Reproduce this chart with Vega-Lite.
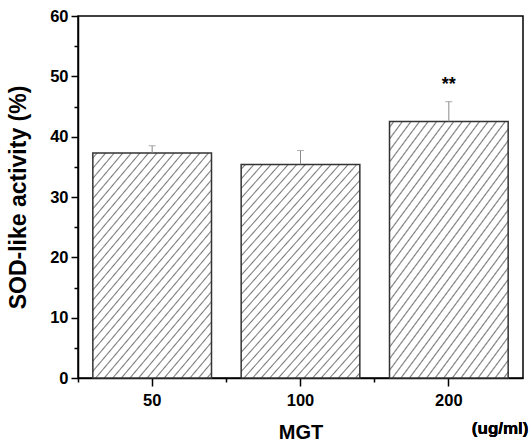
{
  "$schema": "https://vega.github.io/schema/vega-lite/v6.json",
  "width": 445,
  "height": 362,
  "autosize": "none",
  "padding": {"left": 78, "top": 16, "right": 8, "bottom": 68},
  "config": {
    "view": {"stroke": "black", "strokeWidth": 1.5},
    "font": "Liberation Sans",
    "axis": {
      "labelFont": "Liberation Sans", "labelFontWeight": "bold", "labelColor": "black",
      "titleFont": "Liberation Sans", "titleFontWeight": "bold", "titleColor": "black",
      "domainColor": "black", "domainWidth": 1.5, "tickColor": "black", "tickWidth": 1.5, "grid": false
    }
  },
  "data": {
    "values": [
      {"dose": "50", "mean": 37.3, "upper": 38.5, "sig": ""},
      {"dose": "100", "mean": 35.4, "upper": 37.7, "sig": ""},
      {"dose": "200", "mean": 42.5, "upper": 45.8, "sig": "**"}
    ]
  },
  "resolve": {"axis": {"x": "independent", "y": "independent"}},
  "layer": [
    {
      "mark": {
        "type": "bar",
        "stroke": "#333333",
        "strokeWidth": 1.5,
        "fill": {
          "gradient": "linear", "x1": 0, "y1": 0, "x2": 0.73, "y2": 1.168,
          "stops": [
            {"offset": 0.00939, "color": "white"}, {"offset": 0.01389, "color": "#7a7a7a"}, {"offset": 0.01839, "color": "white"},
            {"offset": 0.03717, "color": "white"}, {"offset": 0.04167, "color": "#7a7a7a"}, {"offset": 0.04617, "color": "white"},
            {"offset": 0.06494, "color": "white"}, {"offset": 0.06944, "color": "#7a7a7a"}, {"offset": 0.07394, "color": "white"},
            {"offset": 0.09272, "color": "white"}, {"offset": 0.09722, "color": "#7a7a7a"}, {"offset": 0.10172, "color": "white"},
            {"offset": 0.1205, "color": "white"}, {"offset": 0.125, "color": "#7a7a7a"}, {"offset": 0.1295, "color": "white"},
            {"offset": 0.14828, "color": "white"}, {"offset": 0.15278, "color": "#7a7a7a"}, {"offset": 0.15728, "color": "white"},
            {"offset": 0.17606, "color": "white"}, {"offset": 0.18056, "color": "#7a7a7a"}, {"offset": 0.18506, "color": "white"},
            {"offset": 0.20383, "color": "white"}, {"offset": 0.20833, "color": "#7a7a7a"}, {"offset": 0.21283, "color": "white"},
            {"offset": 0.23161, "color": "white"}, {"offset": 0.23611, "color": "#7a7a7a"}, {"offset": 0.24061, "color": "white"},
            {"offset": 0.25939, "color": "white"}, {"offset": 0.26389, "color": "#7a7a7a"}, {"offset": 0.26839, "color": "white"},
            {"offset": 0.28717, "color": "white"}, {"offset": 0.29167, "color": "#7a7a7a"}, {"offset": 0.29617, "color": "white"},
            {"offset": 0.31494, "color": "white"}, {"offset": 0.31944, "color": "#7a7a7a"}, {"offset": 0.32394, "color": "white"},
            {"offset": 0.34272, "color": "white"}, {"offset": 0.34722, "color": "#7a7a7a"}, {"offset": 0.35172, "color": "white"},
            {"offset": 0.3705, "color": "white"}, {"offset": 0.375, "color": "#7a7a7a"}, {"offset": 0.3795, "color": "white"},
            {"offset": 0.39828, "color": "white"}, {"offset": 0.40278, "color": "#7a7a7a"}, {"offset": 0.40728, "color": "white"},
            {"offset": 0.42606, "color": "white"}, {"offset": 0.43056, "color": "#7a7a7a"}, {"offset": 0.43506, "color": "white"},
            {"offset": 0.45383, "color": "white"}, {"offset": 0.45833, "color": "#7a7a7a"}, {"offset": 0.46283, "color": "white"},
            {"offset": 0.48161, "color": "white"}, {"offset": 0.48611, "color": "#7a7a7a"}, {"offset": 0.49061, "color": "white"},
            {"offset": 0.50939, "color": "white"}, {"offset": 0.51389, "color": "#7a7a7a"}, {"offset": 0.51839, "color": "white"},
            {"offset": 0.53717, "color": "white"}, {"offset": 0.54167, "color": "#7a7a7a"}, {"offset": 0.54617, "color": "white"},
            {"offset": 0.56494, "color": "white"}, {"offset": 0.56944, "color": "#7a7a7a"}, {"offset": 0.57394, "color": "white"},
            {"offset": 0.59272, "color": "white"}, {"offset": 0.59722, "color": "#7a7a7a"}, {"offset": 0.60172, "color": "white"},
            {"offset": 0.6205, "color": "white"}, {"offset": 0.625, "color": "#7a7a7a"}, {"offset": 0.6295, "color": "white"},
            {"offset": 0.64828, "color": "white"}, {"offset": 0.65278, "color": "#7a7a7a"}, {"offset": 0.65728, "color": "white"},
            {"offset": 0.67606, "color": "white"}, {"offset": 0.68056, "color": "#7a7a7a"}, {"offset": 0.68506, "color": "white"},
            {"offset": 0.70383, "color": "white"}, {"offset": 0.70833, "color": "#7a7a7a"}, {"offset": 0.71283, "color": "white"},
            {"offset": 0.73161, "color": "white"}, {"offset": 0.73611, "color": "#7a7a7a"}, {"offset": 0.74061, "color": "white"},
            {"offset": 0.75939, "color": "white"}, {"offset": 0.76389, "color": "#7a7a7a"}, {"offset": 0.76839, "color": "white"},
            {"offset": 0.78717, "color": "white"}, {"offset": 0.79167, "color": "#7a7a7a"}, {"offset": 0.79617, "color": "white"},
            {"offset": 0.81494, "color": "white"}, {"offset": 0.81944, "color": "#7a7a7a"}, {"offset": 0.82394, "color": "white"},
            {"offset": 0.84272, "color": "white"}, {"offset": 0.84722, "color": "#7a7a7a"}, {"offset": 0.85172, "color": "white"},
            {"offset": 0.8705, "color": "white"}, {"offset": 0.875, "color": "#7a7a7a"}, {"offset": 0.8795, "color": "white"},
            {"offset": 0.89828, "color": "white"}, {"offset": 0.90278, "color": "#7a7a7a"}, {"offset": 0.90728, "color": "white"},
            {"offset": 0.92606, "color": "white"}, {"offset": 0.93056, "color": "#7a7a7a"}, {"offset": 0.93506, "color": "white"},
            {"offset": 0.95383, "color": "white"}, {"offset": 0.95833, "color": "#7a7a7a"}, {"offset": 0.96283, "color": "white"},
            {"offset": 0.98161, "color": "white"}, {"offset": 0.98611, "color": "#7a7a7a"}, {"offset": 0.99061, "color": "white"}
          ]
        }
      },
      "encoding": {
        "x": {
          "field": "dose", "type": "nominal", "sort": ["50", "100", "200"],
          "scale": {"paddingInner": 0.2, "paddingOuter": 0.1},
          "axis": {"orient": "bottom", "labelAngle": 0, "tickSize": 8, "labelPadding": 6, "labelFontSize": 16.5,
                   "title": "MGT", "titleFontSize": 20, "titlePadding": 14}
        },
        "y": {
          "field": "mean", "type": "quantitative",
          "scale": {"domain": [0, 60], "nice": false},
          "axis": {"orient": "left", "values": [0, 10, 20, 30, 40, 50, 60], "tickSize": 7, "labelPadding": 3, "labelFontSize": 16.5,
                   "title": "SOD-like activity (%)", "titleFontSize": 23, "titlePadding": 19}
        }
      }
    },
    {
      "mark": {"type": "rule", "color": "#8a8a8a", "strokeWidth": 1},
      "encoding": {
        "x": {
          "field": "dose", "type": "nominal", "sort": ["50", "100", "200"],
          "axis": {"orient": "bottom", "values": ["50", "100", "200"], "bandPosition": -0.125, "tickSize": 4,
                   "labels": false, "domain": false, "title": null}
        },
        "y": {
          "field": "mean", "type": "quantitative",
          "axis": {"orient": "left", "values": [5, 15, 25, 35, 45, 55], "tickSize": 4, "labels": false, "domain": false, "title": null}
        },
        "y2": {"field": "upper"}
      }
    },
    {
      "mark": {"type": "tick", "orient": "horizontal", "color": "#8a8a8a", "size": 7, "thickness": 1},
      "encoding": {
        "x": {"field": "dose", "type": "nominal", "sort": ["50", "100", "200"], "axis": null},
        "y": {"field": "upper", "type": "quantitative", "axis": null}
      }
    },
    {
      "mark": {"type": "text", "font": "Liberation Sans", "fontWeight": "bold", "fontSize": 18, "baseline": "alphabetic", "dy": -12, "color": "black"},
      "encoding": {
        "x": {"field": "dose", "type": "nominal", "sort": ["50", "100", "200"], "axis": null},
        "y": {"field": "upper", "type": "quantitative", "axis": null},
        "text": {"field": "sig"}
      }
    },
    {
      "mark": {"type": "text", "font": "Liberation Sans", "fontWeight": "bold", "fontSize": 17, "align": "left", "baseline": "middle", "dx": 23, "color": "black"},
      "encoding": {
        "x": {"datum": "200", "type": "nominal", "axis": null},
        "y": {"datum": -8.5, "type": "quantitative", "axis": null},
        "text": {"value": "(ug/ml)"}
      }
    }
  ]
}
